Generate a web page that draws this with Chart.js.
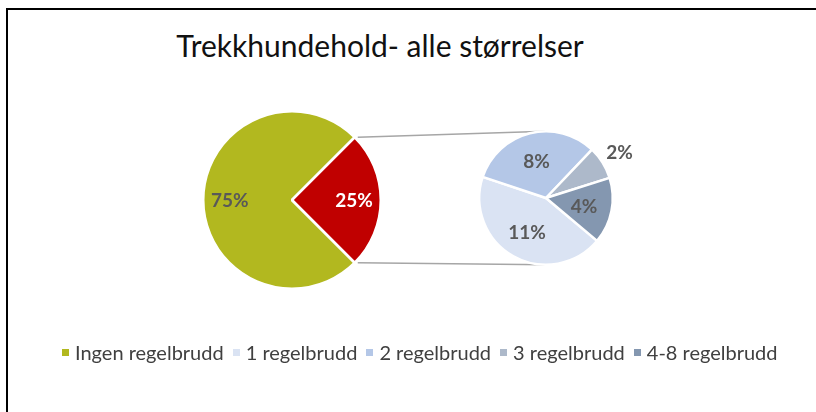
<!DOCTYPE html>
<html>
<head>
<meta charset="utf-8">
<script src="https://cdn.jsdelivr.net/npm/chart.js@4.4.1/dist/chart.umd.min.js"></script>
<style>
  html, body { margin: 0; padding: 0; background: #fff; }
  #wrap { position: relative; width: 816px; height: 412px; overflow: hidden; font-family: Lato, "Open Sans", sans-serif; }
  #frame { position: absolute; left: 6px; top: 8px; right: 0; bottom: 0; border-top: 2px solid #000; border-left: 2px solid #000; }
  canvas { position: absolute; left: 0; top: 0; }
  #title { position: absolute; left: 0; top: 27px; width: 760px; text-align: center; font-size: 30px; color: #111; white-space: nowrap; }
  #legend { position: absolute; left: 62px; top: 340px; display: flex; align-items: center; font-size: 20px; color: #404040; white-space: nowrap; }
  #legend span.box { display: inline-block; width: 7px; height: 7px; margin-right: 6px; }
  #legend span.item { display: inline-flex; align-items: center; margin-right: 9px; }
</style>
</head>
<body>
<div id="wrap">
  <div id="frame"></div>
  <div id="title">Trekkhundehold- alle størrelser</div>
  <canvas id="main" width="816" height="412"></canvas>
  <canvas id="sub" width="816" height="412"></canvas>
  <div id="legend"></div>
</div>
<script>
// data
const mainLabels = ["Ingen regelbrudd", "Regelbrudd"];
const mainValues = [75, 25];
const mainColors = ['#B2B81F', '#C00000'];

const subLabels = ["1 regelbrudd", "2 regelbrudd", "3 regelbrudd", "4-8 regelbrudd"];
const subValues = [11, 8, 2, 4];
const subColors = ['#DAE3F3', '#B4C7E7', '#ADB9CA', '#8497B0'];

// percent labels drawn on the slices
const pctLabels = {
    id: 'pctLabels',
    afterDatasetsDraw(chart, args, opts) {
        const ctx = chart.ctx;
        const values = chart.data.datasets[0].data;
        ctx.save();
        ctx.font = 'bold 19px Lato, "Open Sans", sans-serif';
        ctx.textAlign = 'center';
        ctx.textBaseline = 'middle';
        chart.getDatasetMeta(0).data.forEach((arc, i) => {
            const v = values[i];
            const mid = (arc.startAngle + arc.endAngle) / 2;
            const f = v < 3 ? opts.outside : opts.inside;
            const r = arc.outerRadius * f;
            ctx.fillStyle = opts.colors[i];
            ctx.fillText(v + '%', arc.x + Math.cos(mid) * r, arc.y + Math.sin(mid) * r + 1);
        });
        ctx.restore();
    }
};

const mainChart = new Chart(document.getElementById('main'), {
    type: 'pie',
    data: {
        labels: mainLabels,
        datasets: [{
            data: mainValues,
            backgroundColor: mainColors,
            borderColor: '#fff',
            borderWidth: 2.5
        }]
    },
    options: {
        responsive: false,
        animation: false,
        rotation: 135,
        layout: { padding: { left: 202, right: 434, top: 110, bottom: 122 } },
        plugins: {
            legend: { display: false },
            tooltip: { enabled: false },
            pctLabels: { inside: 0.7, outside: 1.3, colors: ['#595959', '#ffffff'] }
        }
    },
    plugins: [pctLabels]
});

// lines from the red slice to the second pie
const connectors = {
    id: 'connectors',
    beforeDatasetsDraw(chart) {
        const red = mainChart.getDatasetMeta(0).data[1];
        const sub = chart.getDatasetMeta(0).data[0];
        const ctx = chart.ctx;
        const R = red.outerRadius;
        ctx.save();
        ctx.strokeStyle = '#A6A6A6';
        ctx.lineWidth = 1.5;
        ctx.beginPath();
        ctx.moveTo(red.x + Math.cos(red.startAngle) * R + 3, red.y + Math.sin(red.startAngle) * R);
        ctx.lineTo(sub.x, sub.y - sub.outerRadius);
        ctx.moveTo(red.x + Math.cos(red.endAngle) * R + 3, red.y + Math.sin(red.endAngle) * R);
        ctx.lineTo(sub.x, sub.y + sub.outerRadius);
        ctx.stroke();
        ctx.restore();
    }
};

new Chart(document.getElementById('sub'), {
    type: 'pie',
    data: {
        labels: subLabels,
        datasets: [{
            data: subValues,
            backgroundColor: subColors,
            borderColor: '#fff',
            borderWidth: 2.5
        }]
    },
    options: {
        responsive: false,
        animation: false,
        rotation: 130,
        layout: { padding: { left: 478, right: 202, top: 130, bottom: 146 } },
        plugins: {
            legend: { display: false },
            tooltip: { enabled: false },
            pctLabels: { inside: 0.58, outside: 1.3, colors: ['#595959', '#595959', '#595959', '#595959'] }
        }
    },
    plugins: [connectors, pctLabels]
});

// legend
const legend = document.getElementById('legend');
[[mainLabels[0], mainColors[0]]].concat(subLabels.map((l, i) => [l, subColors[i]])).forEach(([label, color]) => {
    const item = document.createElement('span');
    item.className = 'item';
    item.innerHTML = '<span class="box" style="background:' + color + '"></span>' + label;
    legend.appendChild(item);
});
</script>
</body>
</html>
